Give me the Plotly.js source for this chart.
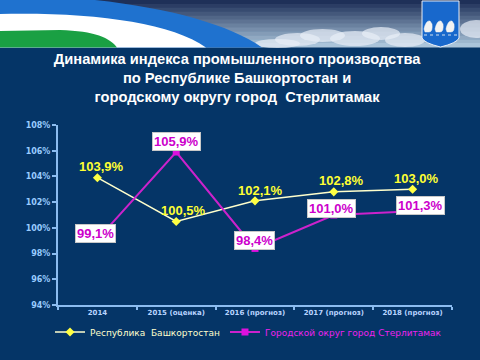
<!DOCTYPE html>
<html>
<head>
<meta charset="utf-8">
<script src="https://cdn.plot.ly/plotly-3.0.1.min.js"></script>
<style>html,body{margin:0;padding:0;background:#053567;}#chart{width:480px;height:360px;}</style>
</head>
<body>
<div id="chart"></div>
<script>
// ---- data ----
const categories = ['2014', '2015 (оценка)', '2016 (прогноз)', '2017 (прогноз)', '2018 (прогноз)'];
const bashkortostan = [103.9, 100.5, 102.1, 102.8, 103.0];
const sterlitamak = [99.1, 105.9, 98.4, 101.0, 101.3];
const yTickValues = [94, 96, 98, 100, 102, 104, 106, 108];
const yTickLabels = ['94%', '96%', '98%', '100%', '102%', '104%', '106%', '108%'];
const seriesNames = ['Республика  Башкортостан', 'Городской округ город Стерлитамак'];
const titleText = 'Динамика индекса промышленного производства<br>по Республике Башкортостан и<br>городскому округу город  Стерлитамак';

// ---- layout geometry ----
const W = 480, H = 360, L = 58, R = 28, T = 125, B = 55;
const PW = W - L - R, PH = H - T - B;
function px(x) { return (x - L) / PW; }
function py(y) { return (H - B - y) / PH; }
function pt(x, y) { return px(x).toFixed(4) + ',' + py(y).toFixed(4); }

const fmt = v => v.toFixed(1).replace('.', ',') + '%';

// label offsets (pixels)
const bashOffX = [4, 7, 5, 8, 4], bashOffY = [11, 11, 10, 11, 11];
const sterOffX = [-2, 0, -1, -2, 8], sterOffY = [6, 11, 8, 7, 6];

const annotations = [];
bashkortostan.forEach((v, i) => annotations.push({
  x: i, y: v, xref: 'x', yref: 'y', text: fmt(v), showarrow: false,
  xshift: bashOffX[i], yshift: bashOffY[i],
  font: {family: 'Liberation Sans, Arial, sans-serif', size: 13, color: '#ffff33', weight: 'bold'}
}));
sterlitamak.forEach((v, i) => annotations.push({
  x: i, y: v, xref: 'x', yref: 'y', text: fmt(v), showarrow: false,
  xshift: sterOffX[i], yshift: sterOffY[i],
  bgcolor: '#ffffff', bordercolor: '#c8c8c8', borderwidth: 1, borderpad: 1,
  font: {family: 'Liberation Sans, Arial, sans-serif', size: 13, color: '#cc00cc', weight: 'bold'}
}));

// ---- banner decoration ----
const shapes = [];
const skyTop = [30, 48, 88], skyBot = [170, 196, 218];
const strips = 12;
for (let s = 0; s < strips; s++) {
  const f = s / (strips - 1);
  const c = skyTop.map((a, k) => Math.round(a + (skyBot[k] - a) * f));
  const y0 = s * 47 / strips, y1 = (s + 1) * 47 / strips + 0.5;
  shapes.push({type: 'rect', xref: 'paper', yref: 'paper', x0: px(0), x1: px(480), y0: py(y0), y1: py(y1),
    fillcolor: 'rgb(' + c.join(',') + ')', line: {width: 0}, layer: 'above'});
}
// clouds
const clouds = [[275, 33, 320, 46], [300, 29, 345, 42], [330, 31, 380, 46], [362, 27, 400, 40], [385, 33, 425, 47], [460, 20, 492, 38], [255, 39, 300, 48]];
clouds.forEach(c => shapes.push({type: 'circle', xref: 'paper', yref: 'paper', x0: px(c[0]), x1: px(c[2]), y0: py(c[1]), y1: py(c[3]),
  fillcolor: 'rgba(232,238,246,0.7)', line: {width: 0}, layer: 'above'}));
// blue swoosh
shapes.push({type: 'path', xref: 'paper', yref: 'paper', layer: 'above',
  path: 'M' + pt(0, 0) + ' L' + pt(95, 0) + ' C' + pt(170, 8) + ' ' + pt(230, 25) + ' ' + pt(262, 47.5) + ' L' + pt(0, 47.5) + ' Z',
  fillcolor: '#1f72cf', line: {width: 0}});
// white swoosh
shapes.push({type: 'path', xref: 'paper', yref: 'paper', layer: 'above',
  path: 'M' + pt(0, 14) + ' C' + pt(90, 12) + ' ' + pt(170, 22) + ' ' + pt(206, 47.5) + ' L' + pt(0, 47.5) + ' Z',
  fillcolor: '#ffffff', line: {width: 0}});
// green
shapes.push({type: 'path', xref: 'paper', yref: 'paper', layer: 'above',
  path: 'M' + pt(0, 31) + ' L' + pt(60, 30) + ' C' + pt(95, 31) + ' ' + pt(110, 38) + ' ' + pt(117, 47.5) + ' L' + pt(0, 47.5) + ' Z',
  fillcolor: '#1aa043', line: {width: 0}});
// coat of arms
shapes.push({type: 'path', xref: 'paper', yref: 'paper', layer: 'above',
  path: 'M' + pt(422, 1) + ' L' + pt(459, 1) + ' L' + pt(459, 38) + ' Q' + pt(457, 43) + ' ' + pt(440.5, 47) + ' Q' + pt(424, 43) + ' ' + pt(422, 38) + ' Z',
  fillcolor: '#1868cc', line: {color: '#e8eef8', width: 1}});
[429, 440, 451].forEach(cx => {
  shapes.push({type: 'path', xref: 'paper', yref: 'paper', layer: 'above',
    path: 'M' + pt(cx - 5, 29) + ' Q' + pt(cx - 3, 20) + ' ' + pt(cx + 1, 21) + ' L' + pt(cx + 3, 24) + ' Q' + pt(cx + 4, 32) + ' ' + pt(cx, 32) + ' L' + pt(cx - 4, 32) + ' Z',
    fillcolor: '#f2f2f2', line: {color: '#f2f2f2', width: 0.5}});
});
shapes.push({type: 'line', xref: 'paper', yref: 'paper', layer: 'above', x0: px(424), x1: px(457), y0: py(35), y1: py(35),
  line: {color: '#d0e0f0', width: 1, dash: 'dot'}});

const traces = [
  {x: categories, y: bashkortostan, name: '<span style="color:#ffffcc">' + seriesNames[0] + '</span>', type: 'scatter', mode: 'lines+markers',
   line: {color: '#ffffcc', width: 1.5}, marker: {symbol: 'diamond', size: 7, color: '#ffff44'}},
  {x: categories, y: sterlitamak, name: '<span style="color:#ee22ee">' + seriesNames[1] + '</span>', type: 'scatter', mode: 'lines+markers',
   line: {color: '#cc22cc', width: 2}, marker: {symbol: 'square', size: 7, color: '#dd11dd'}}
];

const layout = {
  width: W, height: H,
  margin: {l: L, r: R, t: T, b: B, pad: 0},
  paper_bgcolor: '#053567', plot_bgcolor: '#053567',
  title: {text: titleText, xref: 'container', yref: 'container', x: 0.494, y: 1 - 64 / 360, xanchor: 'center', yanchor: 'middle',
    font: {family: 'Liberation Sans, Arial, sans-serif', size: 14.7, color: '#ffffff', weight: 'bold'}},
  showlegend: true,
  legend: {orientation: 'h', xref: 'container', yref: 'container', x: 50 / 480, y: 1 - 332 / 360, xanchor: 'left', yanchor: 'middle',
    bgcolor: 'rgba(0,0,0,0)', font: {family: 'DejaVu Sans, sans-serif', size: 9, color: '#ffffcc'},
    itemwidth: 30, tracegroupgap: 0},
  xaxis: {type: 'category', range: [-0.5, 4.5], autorange: false, showgrid: false, zeroline: false, showline: true, linecolor: '#8cbcf0', linewidth: 2,
    ticks: 'outside', tickson: 'boundaries', ticklen: 3, tickcolor: '#8cbcf0', tickwidth: 2, tickangle: 0,
    tickfont: {family: 'DejaVu Sans, sans-serif', size: 7, color: '#b8d4ff', weight: 'bold'}, fixedrange: true},
  yaxis: {range: [94, 108], autorange: false, tickmode: 'array', tickvals: yTickValues, ticktext: yTickLabels, showgrid: false, zeroline: false, showline: true,
    linecolor: '#8cbcf0', linewidth: 2, ticks: 'outside', ticklen: 4, tickcolor: '#8cbcf0', tickwidth: 2,
    tickfont: {family: 'DejaVu Sans, sans-serif', size: 8, color: '#99ccff', weight: 'bold'}, fixedrange: true},
  annotations: annotations,
  shapes: shapes
};

Plotly.newPlot('chart', traces, layout, {displayModeBar: false, staticPlot: true});
</script>
</body>
</html>
